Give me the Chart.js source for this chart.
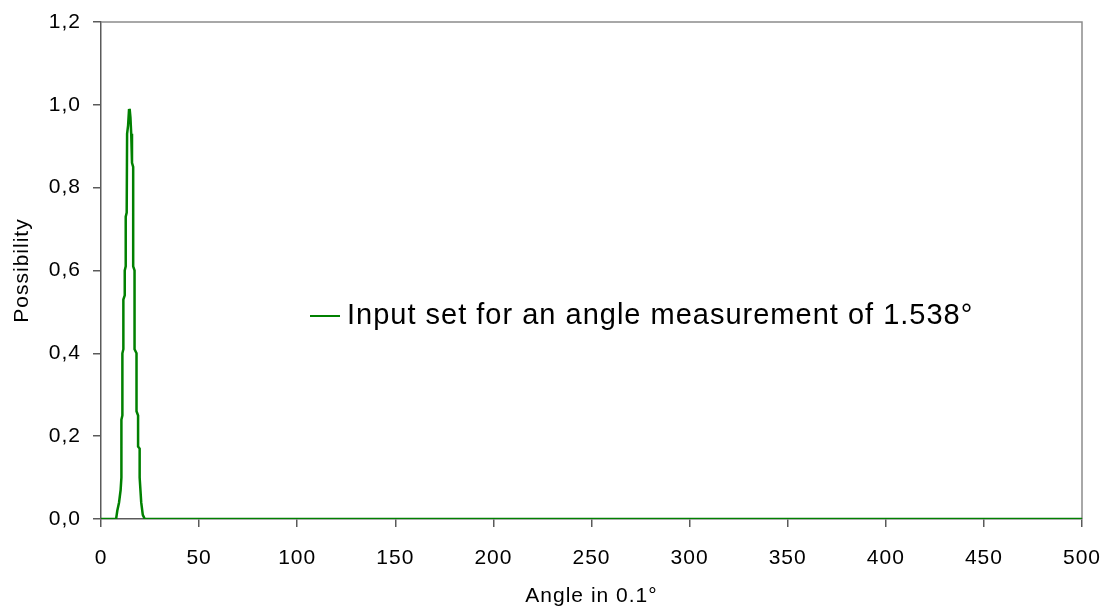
<!DOCTYPE html>
<html>
<head>
<meta charset="utf-8">
<script src="https://cdn.jsdelivr.net/npm/chart.js@4.4.1/dist/chart.umd.min.js"></script>
<style>
  html, body { margin: 0; padding: 0; background: #ffffff; }
  canvas { display: block; }
</style>
</head>
<body>
<canvas id="chart" width="1111" height="610"></canvas>
<script>
// Possibility distribution of the input fuzzy set (x in 0.1° steps)
const angle = [
  0, 7.7, 8.3, 9.2, 10.0, 10.4, 10.4, 10.9, 10.9, 11.4, 11.4, 12.1, 12.1,
  12.6, 12.6, 13.1, 13.3, 13.8, 14.3, 14.5, 14.7, 15.0, 15.4, 15.8, 16.4,
  16.4, 17.1, 17.1, 18.1, 18.1, 18.9, 18.9, 19.7, 19.7, 20.5, 21.3, 22.3, 500
];
const possibility = [
  0, 0, 0.02, 0.04, 0.07, 0.10, 0.24, 0.25, 0.40, 0.41, 0.53, 0.54, 0.60,
  0.61, 0.73, 0.74, 0.93, 0.95, 0.99, 0.98, 0.99, 0.97, 0.93, 0.86, 0.85,
  0.61, 0.60, 0.41, 0.40, 0.26, 0.25, 0.175, 0.17, 0.10, 0.04, 0.01, 0, 0
];
const seriesLabel = 'Input set for an angle measurement of 1.538°';

const xTickValues = [0, 50, 100, 150, 200, 250, 300, 350, 400, 450, 500];
const yTickValues = [0, 0.2, 0.4, 0.6, 0.8, 1.0, 1.2];
const yTickLabels = ['0,0', '0,2', '0,4', '0,6', '0,8', '1,0', '1,2'];
const xTitle = 'Angle in 0.1°';
const yTitle = 'Possibility';

const FONT = "'Liberation Sans', Arial, sans-serif";
const LINE_GREEN = '#008000';
const AXIS_GREY = '#5a5a5a';
const FRAME_GREY = '#8c8c8c';

const points = angle.map((a, i) => ({ x: a, y: possibility[i] }));

// Slightly wider text spacing for all canvas text
const textSpacing = {
  id: 'textSpacing',
  beforeDraw(chart) { chart.ctx.letterSpacing = '1px'; },
  beforeUpdate(chart) { chart.ctx.letterSpacing = '1px'; }
};

// Top and right edges of the plot frame
const plotFrame = {
  id: 'plotFrame',
  beforeDatasetsDraw(chart) {
    const { ctx, chartArea: a } = chart;
    ctx.save();
    ctx.strokeStyle = FRAME_GREY;
    ctx.lineWidth = 1.5;
    ctx.beginPath();
    ctx.moveTo(a.left, a.top);
    ctx.lineTo(a.right, a.top);
    ctx.lineTo(a.right, a.bottom);
    ctx.stroke();
    ctx.restore();
  }
};

// Legend entry drawn inside the plot area
const innerLegend = {
  id: 'innerLegend',
  afterDatasetsDraw(chart) {
    const { ctx } = chart;
    const ds = chart.data.datasets[0];
    const y = 316;
    ctx.save();
    ctx.strokeStyle = ds.borderColor;
    ctx.lineWidth = 2;
    ctx.beginPath();
    ctx.moveTo(310, y);
    ctx.lineTo(340, y);
    ctx.stroke();
    ctx.fillStyle = '#000000';
    ctx.font = `29px ${FONT}`;
    ctx.textBaseline = 'middle';
    ctx.textAlign = 'left';
    ctx.fillText(ds.label, 347, y);
    ctx.restore();
  }
};

new Chart(document.getElementById('chart'), {
  type: 'scatter',
  data: {
    datasets: [{
      label: seriesLabel,
      data: points,
      showLine: true,
      borderColor: LINE_GREEN,
      backgroundColor: LINE_GREEN,
      borderWidth: 2.5,
      pointRadius: 0,
      tension: 0,
      fill: false
    }]
  },
  options: {
    responsive: false,
    animation: false,
    devicePixelRatio: 1,
    layout: { padding: { top: 22, right: 29, left: 0, bottom: 0 } },
    plugins: {
      legend: { display: false },
      tooltip: { enabled: false }
    },
    scales: {
      x: {
        type: 'linear',
        min: 0,
        max: 500,
        afterBuildTicks: s => { s.ticks = xTickValues.map(v => ({ value: v })); },
        afterFit: s => { s.height = 91; s.paddingLeft = 0; s.paddingRight = 0; },
        ticks: {
          color: '#000000',
          font: { family: FONT, size: 21 },
          padding: 19,
          maxRotation: 0,
          autoSkip: false,
          callback: (v, i) => String(xTickValues[i])
        },
        grid: { drawOnChartArea: false, drawTicks: true, tickLength: 8, color: AXIS_GREY, lineWidth: 1.5 },
        border: { display: true, color: AXIS_GREY, width: 1.5 },
        title: {
          display: true,
          text: xTitle,
          color: '#000000',
          font: { family: FONT, size: 21 },
          padding: { top: 0, bottom: 1 }
        }
      },
      y: {
        type: 'linear',
        min: 0,
        max: 1.2,
        afterBuildTicks: s => { s.ticks = yTickValues.map(v => ({ value: v })); },
        afterFit: s => { s.width = 101; s.paddingTop = 0; s.paddingBottom = 0; },
        ticks: {
          color: '#000000',
          font: { family: FONT, size: 21 },
          padding: 12,
          autoSkip: false,
          callback: (v, i) => yTickLabels[i]
        },
        grid: { drawOnChartArea: false, drawTicks: true, tickLength: 8, color: AXIS_GREY, lineWidth: 1.5 },
        border: { display: true, color: AXIS_GREY, width: 1.5 },
        title: {
          display: true,
          text: yTitle,
          color: '#000000',
          font: { family: FONT, size: 21 },
          padding: { top: 10, bottom: 0 }
        }
      }
    }
  },
  plugins: [textSpacing, plotFrame, innerLegend]
});
</script>
</body>
</html>
